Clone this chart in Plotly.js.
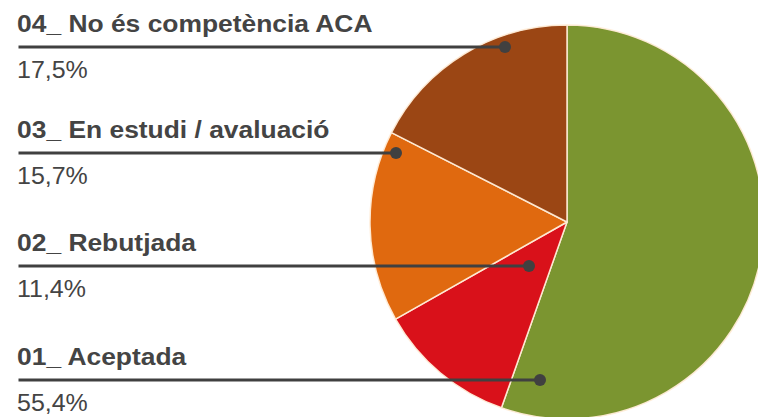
<!DOCTYPE html>
<html>
<head>
<meta charset="utf-8">
<script src="https://cdn.plot.ly/plotly-3.0.1.min.js"></script>
<style>
  html, body { margin: 0; padding: 0; overflow: hidden; background: #fff; }
</style>
</head>
<body>
<div id="chart" style="width:780px;height:440px;"></div>
<script>
// Estat de les propostes (%)
const categories = ['01_ Aceptada', '02_ Rebutjada', '03_ En estudi / avaluació', '04_ No és competència ACA'];
const values = [55.4, 11.4, 15.7, 17.5];
const colors = ['#7b9530', '#d9111a', '#e0690f', '#9b4614'];

// leader lines: height of each line and where its dot lands on the pie (px)
const lineY = [380, 266, 153, 47];
const dotX = [540, 529, 396, 505];

const W = 780, H = 440;          // bigger than the window so the pie gets cut at right/bottom
const cx = 567, cy = 222, r = 197;
const textX = 15;
const ink = '#444444';

const pctLabels = values.map(v => v.toFixed(1).replace('.', ',') + '%');

const pie = {
  type: 'pie',
  values: values,
  labels: categories,
  sort: false,
  direction: 'clockwise',
  rotation: 0,
  textinfo: 'none',
  hoverinfo: 'label+percent',
  showlegend: false,
  marker: { colors: colors, line: { color: 'rgba(255,236,215,0.95)', width: 1.5 } },
  domain: { x: [(cx - r) / W, (cx + r) / W], y: [1 - (cy + r) / H, 1 - (cy - r) / H] }
};

// empty trace so the pixel-scaled cartesian axes exist for the annotations
const frame = { type: 'scatter', x: [], y: [], showlegend: false, hoverinfo: 'skip' };

const annotations = [];
categories.forEach((name, i) => {
  annotations.push({
    xref: 'x', yref: 'y', x: dotX[i], y: lineY[i],
    axref: 'x', ayref: 'y', ax: 17, ay: lineY[i],
    text: '', showarrow: true, arrowhead: 6, arrowsize: 1, arrowwidth: 3,
    arrowcolor: '#404040', standoff: 0, font: { size: 1 }
  });
  annotations.push({
    xref: 'x', yref: 'y', x: textX, y: lineY[i] - 24, xanchor: 'left', yanchor: 'middle',
    text: name, showarrow: false,
    font: { family: 'Liberation Sans, Arial, sans-serif', size: 24, weight: 700, color: ink }
  });
  annotations.push({
    xref: 'x', yref: 'y', x: textX, y: lineY[i] + 22, xanchor: 'left', yanchor: 'middle',
    text: pctLabels[i], showarrow: false,
    font: { family: 'Liberation Sans, Arial, sans-serif', size: 24, color: ink }
  });
});

const layout = {
  width: W,
  height: H,
  margin: { l: 0, r: 0, t: 0, b: 0 },
  paper_bgcolor: '#ffffff',
  plot_bgcolor: 'rgba(0,0,0,0)',
  xaxis: { range: [0, W], visible: false, fixedrange: true },
  yaxis: { range: [H, 0], visible: false, fixedrange: true },
  annotations: annotations
};

Plotly.newPlot('chart', [frame, pie], layout, { displayModeBar: false, staticPlot: true }).then(() => {
  // the source lettering is a little wider than Liberation Sans
  document.querySelectorAll('#chart .annotation-text').forEach(t => {
    if (!t.textContent.trim()) return;
    const s = t.textContent.includes('%') ? 1.04 : 1.1;
    const b = t.getBBox();
    t.setAttribute('transform', `translate(${b.x},0) scale(${s},1) translate(${-b.x},0)`);
  });
});
</script>
</body>
</html>
